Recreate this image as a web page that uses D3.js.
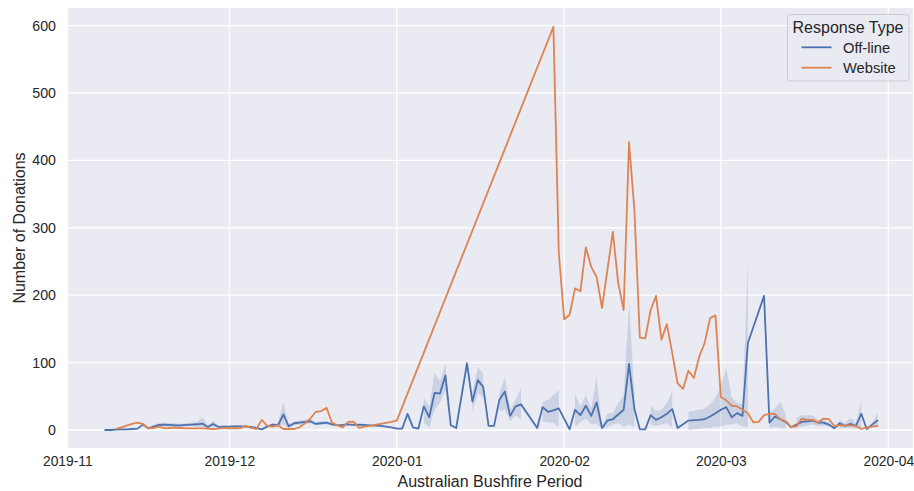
<!DOCTYPE html>
<html><head><meta charset="utf-8">
<script src="https://cdn.jsdelivr.net/npm/d3@7"></script>
<style>
body{margin:0;background:#fff}
svg{display:block}
text{font-family:"Liberation Sans",Arial,sans-serif;fill:#262626}
</style>
</head><body>
<svg id="chart" width="914" height="491"></svg>
<script>
// ---------------- DATA ----------------
const seriesNames = ["Off-line", "Website"];
const seriesColors = ["#4c72b0", "#dd8452"];
const yTickValues = [0, 100, 200, 300, 400, 500, 600];
const xTickLabels = ["2019-11", "2019-12", "2020-01", "2020-02", "2020-03", "2020-04"];

// Off-line: mean and confidence band (low == high means a single observation: no band)
const offlineDates = [
  // Nov
  "2019-11-08","2019-11-09","2019-11-10","2019-11-11","2019-11-12","2019-11-13","2019-11-14","2019-11-15","2019-11-16","2019-11-17","2019-11-18","2019-11-19","2019-11-20","2019-11-21","2019-11-22","2019-11-23","2019-11-24","2019-11-25","2019-11-26","2019-11-27","2019-11-28","2019-11-29","2019-11-30",
  // Dec
  "2019-12-01","2019-12-02","2019-12-03","2019-12-04","2019-12-05","2019-12-06","2019-12-07","2019-12-08","2019-12-09","2019-12-10","2019-12-11","2019-12-12","2019-12-13","2019-12-14","2019-12-15","2019-12-16","2019-12-17","2019-12-18","2019-12-19","2019-12-20","2019-12-21","2019-12-22","2019-12-23","2019-12-24","2019-12-25","2019-12-26","2019-12-27","2019-12-28","2019-12-29","2019-12-30","2019-12-31",
  // Jan
  "2020-01-01","2020-01-02","2020-01-03","2020-01-04","2020-01-05","2020-01-06","2020-01-07","2020-01-08","2020-01-09","2020-01-10","2020-01-11","2020-01-12","2020-01-14","2020-01-15","2020-01-16","2020-01-17","2020-01-18","2020-01-19","2020-01-20","2020-01-21","2020-01-22","2020-01-23","2020-01-24","2020-01-27","2020-01-28","2020-01-29","2020-01-30","2020-01-31",
  // Feb
  "2020-02-02","2020-02-03","2020-02-04","2020-02-05","2020-02-06","2020-02-07","2020-02-08","2020-02-09","2020-02-10","2020-02-11","2020-02-12","2020-02-13","2020-02-14","2020-02-15","2020-02-16","2020-02-17","2020-02-18","2020-02-19","2020-02-20","2020-02-21","2020-02-22","2020-02-24","2020-02-26","2020-02-27","2020-02-28","2020-02-29",
  // Mar
  "2020-03-01","2020-03-02","2020-03-03","2020-03-04","2020-03-05","2020-03-06","2020-03-09","2020-03-10","2020-03-11","2020-03-12","2020-03-13","2020-03-14","2020-03-15","2020-03-16","2020-03-17","2020-03-18","2020-03-19","2020-03-20","2020-03-21","2020-03-22","2020-03-23","2020-03-24","2020-03-25","2020-03-26","2020-03-27","2020-03-28","2020-03-29","2020-03-30"
];
const offlineValues = [
  0,0,0.5,1,1,1.5,2,8,2.5,5,7.5,8,7.5,7,7,7.5,8,8.5,9.5,4.5,9,4.5,5,
  5,5.5,5.5,5,4.5,3,1,5,8,7,23,5.5,10,11,12,13,9,10,11,8.5,7,7.5,8.5,7.5,8,7.5,7,6.5,6,5,4,
  2,2,24,4,2,35,19,55,54,81,7,3,99,42,74,64,6,6,45,57,21,35,38,3,34,27,29,32,
  1,30,22,36,21,41,3,14,16,23,30,98,31,1,1,22,15,19,24,31,3,14,15,16,20,25,
  30,34,19,25,21,129,199,11,20,16,12,4,8,12,13,14,11,11,8,2.5,10,6,9,6,24,1.5,8,14
];
const offlineLow = [
  0,0,0.5,1,1,1.5,2,6,1,3,5,5,5,5,5,5,6,5,4,3,5,3,4,
  4,4,4,4,3.5,3,1,4,5,4,8,3,7,8,9,10,7,8,8,7,6,6.5,7.5,6.5,7,6.5,6,6,5.5,4.5,4,
  2,2,24,4,2,12,3,30,40,59,3,3,99,28,55,48,6,6,28,30,13,22,15,3,12,12,10,5,
  1,5,12,17,8,10,1,4,8,10,5,8,5,1,1,8,6,8,10,3,3,0,2,3,3,5,
  5,8,8,10,5,5,199,3,5,3,3,4,4,5,6,8,6,6,5,2.5,3,3,3,2,3,1.5,6,4
];
const offlineHigh = [
  0,0,0.5,1,1,1.5,2,10,4,8,10,11,10,10,9,10,11,12,19,7,14,6,6,
  6,7,7,6,5.5,3,1,6,10,10,42,8,13,14,15,16,12,13,13,10,9,8.5,9.5,8.5,9,8.5,8,7,6.5,5.5,4,
  2,2,24,4,2,48,35,85,72,98,10,3,99,56,93,84,6,6,55,79,30,45,62,3,42,45,52,59,
  1,54,35,52,32,79,5,25,25,40,52,188,55,1,1,36,28,30,40,57,3,27,30,32,38,48,
  64,92,49,40,38,249,199,25,32,42,22,4,18,22,22,22,15,15,12,2.5,15,10,18,10,44,1.5,10,25
];

// Website
const websiteDates = [
  "2019-11-10","2019-11-11","2019-11-12","2019-11-13","2019-11-14","2019-11-15","2019-11-16","2019-11-17","2019-11-18","2019-11-19","2019-11-20","2019-11-21","2019-11-22","2019-11-23","2019-11-24","2019-11-25","2019-11-26","2019-11-27","2019-11-28","2019-11-29","2019-11-30",
  "2019-12-01","2019-12-02","2019-12-03","2019-12-04","2019-12-05","2019-12-06","2019-12-07","2019-12-08","2019-12-09","2019-12-10","2019-12-11","2019-12-12","2019-12-13","2019-12-14","2019-12-15","2019-12-16","2019-12-17","2019-12-18","2019-12-19","2019-12-20","2019-12-21","2019-12-22","2019-12-23","2019-12-24","2019-12-25","2019-12-26","2019-12-27","2019-12-28","2019-12-29","2019-12-30","2019-12-31",
  "2020-01-01","2020-01-30","2020-01-31",
  "2020-02-01","2020-02-02","2020-02-03","2020-02-04","2020-02-05","2020-02-06","2020-02-07","2020-02-08","2020-02-10","2020-02-11","2020-02-12","2020-02-13","2020-02-14","2020-02-15","2020-02-16","2020-02-17","2020-02-18","2020-02-19","2020-02-20","2020-02-21","2020-02-22","2020-02-23","2020-02-24","2020-02-25","2020-02-26","2020-02-27","2020-02-28","2020-02-29",
  "2020-03-01","2020-03-02","2020-03-03","2020-03-04","2020-03-05","2020-03-06","2020-03-07","2020-03-08","2020-03-09","2020-03-10","2020-03-11","2020-03-12","2020-03-13","2020-03-14","2020-03-15","2020-03-16","2020-03-17","2020-03-18","2020-03-19","2020-03-20","2020-03-21","2020-03-22","2020-03-23","2020-03-24","2020-03-25","2020-03-26","2020-03-27","2020-03-28","2020-03-29","2020-03-30"
];
const websiteValues = [
  1.5,4,6.5,9,11,9,2.5,3,5,2.5,3,3.5,3,2.5,2.5,2.5,2.5,2,1.5,2,3,
  2.5,3,2.5,6.5,3,1.5,15,6,5,7,1.5,1.5,1.5,4,10,17,27,28,33,11,7,4,12,12.5,3,5,6,7.5,9,10.5,12,
  14,598,262,
  164,171,210,206,271,242,227,181,294,218,178,427,326,137,136,178,199,134,157,114,69,61,88,77,109,129,166,170,
  49,44,36,35,30,25,11.5,12,22,24,24,16,13,4.5,5.5,17,15,15,11,17,16,6,7,7,7,6,1.5,4,5,6
];

// ---------------- CHART ----------------
const plot = {left: 67, right: 913, top: 8, bottom: 448};
const parse = d3.utcParse("%Y-%m-%d");
const tickDates = xTickLabels.map(s => d3.utcParse("%Y-%m")(s));

const x = d3.scaleUtc()
  .domain([tickDates[0], tickDates[tickDates.length - 1]])
  .range([67.3, 888.3]);
const y = d3.scaleLinear().domain([-26.7, 626]).range([plot.bottom, plot.top]);

const svg = d3.select("#chart");
svg.append("rect").attr("x", plot.left).attr("y", plot.top)
  .attr("width", plot.right - plot.left).attr("height", plot.bottom - plot.top)
  .attr("fill", "#eaeaf2");

svg.append("defs").append("clipPath").attr("id", "clip")
  .append("rect").attr("x", plot.left).attr("y", plot.top)
  .attr("width", plot.right - plot.left).attr("height", plot.bottom - plot.top);

// grid
const grid = svg.append("g");
grid.selectAll("line.h").data(yTickValues).join("line")
  .attr("x1", plot.left).attr("x2", plot.right)
  .attr("y1", d => y(d)).attr("y2", d => y(d))
  .attr("stroke", "#fff").attr("stroke-width", 1.3);
grid.selectAll("line.v").data(tickDates).join("line")
  .attr("x1", d => x(d)).attr("x2", d => x(d))
  .attr("y1", plot.top).attr("y2", plot.bottom)
  .attr("stroke", "#fff").attr("stroke-width", 1.3);

// axes (tick labels only, no spines)
const yAxis = d3.axisLeft(y).tickValues(yTickValues).tickSize(0).tickPadding(11);
svg.append("g").attr("transform", `translate(${plot.left},0)`).call(yAxis)
  .call(g => g.select(".domain").remove())
  .selectAll("text").attr("font-size", "14.2px").attr("fill", "#262626")
  .style("font-family", "'Liberation Sans', Arial, sans-serif");

const xAxis = d3.axisBottom(x).tickValues(tickDates).tickFormat(d3.utcFormat("%Y-%m")).tickSize(0).tickPadding(8);
svg.append("g").attr("transform", `translate(0,${plot.bottom})`).call(xAxis)
  .call(g => g.select(".domain").remove())
  .selectAll("text").attr("font-size", "13.8px").attr("fill", "#262626")
  .style("font-family", "'Liberation Sans', Arial, sans-serif");

// axis labels
svg.append("text").attr("x", (plot.left + plot.right) / 2).attr("y", 487)
  .attr("text-anchor", "middle").attr("font-size", "16px").text("Australian Bushfire Period");
svg.append("text").attr("transform", `translate(25,${(plot.top + plot.bottom) / 2}) rotate(-90)`)
  .attr("text-anchor", "middle").attr("font-size", "16px").text("Number of Donations");

// data
const offline = offlineDates.map((d, i) => ({date: parse(d), v: offlineValues[i], lo: offlineLow[i], hi: offlineHigh[i]}));
const website = websiteDates.map((d, i) => ({date: parse(d), v: websiteValues[i]}));

const g = svg.append("g").attr("clip-path", "url(#clip)");

// band is undefined (broken) where a date has a single observation
const band = d3.area().defined(d => d.hi > d.lo)
  .x(d => x(d.date)).y0(d => y(d.lo)).y1(d => y(d.hi));
g.append("path").datum(offline).attr("d", band)
  .attr("fill", seriesColors[0]).attr("fill-opacity", 0.2);

const line = d3.line().x(d => x(d.date)).y(d => y(d.v));
g.append("path").datum(offline).attr("d", line)
  .attr("fill", "none").attr("stroke", seriesColors[0]).attr("stroke-width", 1.8)
  .attr("stroke-linejoin", "round").attr("stroke-linecap", "round");
g.append("path").datum(website).attr("d", line)
  .attr("fill", "none").attr("stroke", seriesColors[1]).attr("stroke-width", 1.8)
  .attr("stroke-linejoin", "round").attr("stroke-linecap", "round");

// legend
const lg = svg.append("g");
lg.append("rect").attr("x", 787.5).attr("y", 14.5).attr("width", 121.5).attr("height", 66.5)
  .attr("rx", 3.5).attr("fill", "#eaeaf2").attr("fill-opacity", 0.8)
  .attr("stroke", "#cccccc").attr("stroke-width", 1);
lg.append("text").attr("x", 848).attr("y", 32.5).attr("text-anchor", "middle")
  .attr("font-size", "16px").text("Response Type");
seriesNames.forEach((name, i) => {
  const yy = 47.3 + i * 20.4;
  lg.append("line").attr("x1", 801.5).attr("x2", 831.5).attr("y1", yy).attr("y2", yy)
    .attr("stroke", seriesColors[i]).attr("stroke-width", 1.8);
  lg.append("text").attr("x", 843).attr("y", yy + 5.2).attr("font-size", "14.7px").text(name);
});
</script>
</body></html>
